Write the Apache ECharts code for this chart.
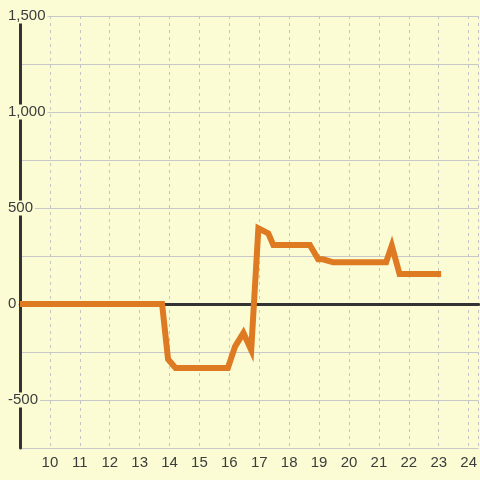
<!DOCTYPE html>
<html>
<head>
<meta charset="utf-8">
<script src="https://cdn.jsdelivr.net/npm/echarts@6/dist/echarts.min.js"></script>
<style>
html,body{margin:0;padding:0;background:#fcfcd4;}
#chart{width:480px;height:480px;}
</style>
</head>
<body>
<div id="chart"></div>
<script>
// Data
const times  = [9, 13.75, 13.95, 14.2, 15.95, 16.19, 16.47, 16.73, 16.97, 17.3, 17.47, 18.69, 18.97, 19.13, 19.47, 21.24, 21.43, 21.69, 23.08];
const values = [0, 0, -288, -333, -333, -222, -151, -240, 394, 368, 307, 307, 233, 233, 217, 217, 304, 156, 156];
const yLabelValues = [-500, 0, 500, 1000, 1500];

const bg = '#fcfcd4';
const textColor = '#3c3c3c';
const font = 'Liberation Sans';

const chart = echarts.init(document.getElementById('chart'));
chart.setOption({
  backgroundColor: bg,
  animation: false,
  grid: { left: 20, right: 0, top: 16, bottom: 32, containLabel: false },
  xAxis: [
    {
      type: 'value', min: 9, max: 24.3333, interval: 1, position: 'bottom',
      axisLine: { show: false, onZero: false },
      axisTick: { show: false },
      axisLabel: {
        color: textColor, fontSize: 15, fontFamily: font, margin: 7,
        formatter: v => (v === 9 ? '' : String(v))
      },
      splitLine: { show: true, lineStyle: { color: '#c4c4c4', type: [3, 4], width: 1 } }
    },
    {
      type: 'value', min: 9, max: 24.3333, interval: 1,
      axisLine: { show: true, onZero: true, lineStyle: { color: '#333', width: 3 } },
      axisTick: { show: false },
      axisLabel: { show: false },
      splitLine: { show: false }
    }
  ],
  yAxis: {
    type: 'value', min: -750, max: 1500, interval: 250,
    axisLine: { show: true, onZero: false, lineStyle: { color: '#333', width: 3 } },
    axisTick: { show: false },
    axisLabel: {
      color: textColor, fontSize: 15, fontFamily: font,
      align: 'left', margin: 12,
      backgroundColor: bg, padding: [0, 2, 0, 0],
      formatter: v => (yLabelValues.indexOf(v) >= 0 ? v.toLocaleString('en-US') : '')
    },
    splitLine: { show: true, lineStyle: { color: '#c8c8c8', width: 1 } }
  },
  series: [{
    type: 'line',
    xAxisIndex: 0,
    data: times.map((t, i) => [t, values[i]]),
    showSymbol: false,
    lineStyle: { color: '#dd7a22', width: 6, cap: 'butt', join: 'miter' },
    itemStyle: { color: '#dd7a22' },
    z: 5
  }]
});
</script>
</body>
</html>
